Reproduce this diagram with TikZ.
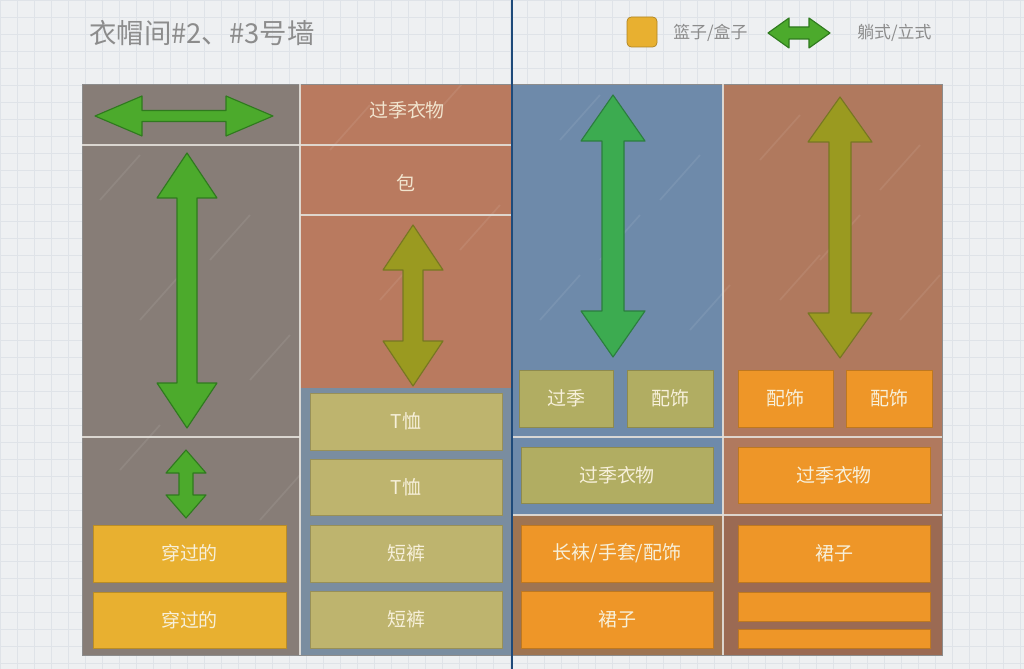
\documentclass[tikz,border=0pt]{standalone}
\usepackage{fontspec}
\newfontfamily\cjk{Noto Sans CJK SC}
\definecolor{paper}{HTML}{EEF0F2}
\definecolor{gridc}{HTML}{DFE3E8}
\definecolor{colgray}{HTML}{877D77}
\definecolor{colterra}{HTML}{B97A5F}
\definecolor{colblue}{HTML}{6E8AAA}
\definecolor{colterrab}{HTML}{B0795E}
\definecolor{bluegray}{HTML}{7A8DA0}
\definecolor{brownlow}{HTML}{9E7452}
\definecolor{yellowbox}{HTML}{E8B030}
\definecolor{khaki}{HTML}{BEB46E}
\definecolor{khakig}{HTML}{B1AD62}
\definecolor{orangebox}{HTML}{EE9628}
\definecolor{greenA}{HTML}{4CAA2C}
\definecolor{greenAo}{HTML}{2F7A1E}
\definecolor{greenB}{HTML}{3CAB50}
\definecolor{greenBo}{HTML}{2B7E3E}
\definecolor{oliveA}{HTML}{9A9A20}
\definecolor{oliveAo}{HTML}{777722}
\definecolor{chalk}{HTML}{E4E0DA}
\definecolor{inkblue}{HTML}{1E4A7A}
\definecolor{titlegray}{HTML}{8C8C8C}
\definecolor{boxtxt}{HTML}{F7F0DA}
\tikzset{
  colfill/.style={fill=#1, draw=none},
  chalkline/.style={draw=chalk, line width=1.6pt, opacity=0.9},
  ybox/.style={fill=yellowbox, draw=yellowbox!80!black, line width=0.4pt},
  kbox/.style={fill=khaki, draw=khaki!80!black, line width=0.4pt},
  kgbox/.style={fill=khakig, draw=khakig!80!black, line width=0.4pt},
  obox/.style={fill=orangebox, draw=orangebox!80!black, line width=0.4pt},
  boxtext/.style={text=boxtxt, font=\cjk\fontsize{13.5}{15}\selectfont, inner sep=0pt},
  toptext/.style={text=boxtxt!90!colterra, font=\cjk\fontsize{13.5}{15}\selectfont, inner sep=0pt},
  legtext/.style={text=titlegray, font=\cjk\fontsize{12}{14}\selectfont, inner sep=0pt, anchor=west},
  arrG/.style={fill=greenA, draw=greenAo, line width=0.8pt, line join=round},
  arrB/.style={fill=greenB, draw=greenBo, line width=0.8pt, line join=round},
  arrO/.style={fill=oliveA, draw=oliveAo, line width=0.8pt, line join=round},
  streak/.style={draw=white, opacity=0.08, line width=1.2pt},
}
% #1 style, #2 cx, #3 ytop, #4 ybot, #5 shaft half, #6 head half, #7 head length
\newcommand\myvarrow[7]{%
  \draw[#1] (#2,#3) -- ({#2+#6},{#3+#7}) -- ({#2+#5},{#3+#7}) -- ({#2+#5},{#4-#7})
    -- ({#2+#6},{#4-#7}) -- (#2,#4) -- ({#2-#6},{#4-#7}) -- ({#2-#5},{#4-#7})
    -- ({#2-#5},{#3+#7}) -- ({#2-#6},{#3+#7}) -- cycle;}
% #1 style, #2 cy, #3 xleft, #4 xright, #5 shaft half, #6 head half, #7 head length
\newcommand\myharrow[7]{%
  \draw[#1] (#3,#2) -- ({#3+#7},{#2-#6}) -- ({#3+#7},{#2-#5}) -- ({#4-#7},{#2-#5})
    -- ({#4-#7},{#2-#6}) -- (#4,#2) -- ({#4-#7},{#2+#6}) -- ({#4-#7},{#2+#5})
    -- ({#3+#7},{#2+#5}) -- ({#3+#7},{#2+#6}) -- cycle;}
% box: #1 name, #2 style, #3 x1, #4 y1, #5 x2, #6 y2, #7 text
\newcommand\mybox[7]{%
  \path[#2] (#3,#4) rectangle (#5,#6);
  \node[boxtext] (#1) at ({(#3+#5)/2},{(#4+#6)/2}) {#7};}
\begin{document}
\begin{tikzpicture}[x=0.025cm, y=-0.025cm]
\useasboundingbox (0,0) rectangle (1024,669);
% paper with grid
\fill[paper] (0,0) rectangle (1024,669);
\foreach \g in {0,17,...,1024} \draw[gridc, line width=0.3pt] (\g,0) -- (\g,669);
\foreach \g in {0,17,...,669} \draw[gridc, line width=0.3pt] (0,\g) -- (1024,\g);

% title and legend
\node[text=titlegray, font=\cjk\fontsize{19.5}{22}\selectfont, anchor=west, inner sep=0pt] (title) at (89,33) {衣帽间\#2、\#3号墙};
\draw[fill=yellowbox, draw=yellowbox!75!black, rounded corners=3pt, line width=0.5pt] (627,17) rectangle (657,47);
\node[legtext] (legbox) at (673,33) {篮子/盒子};
\myharrow{arrG}{33}{768}{830}{6}{15}{21}
\node[legtext] (legarrow) at (857,33) {躺式/立式};

% columns
\path[colfill=colgray] (82,84) rectangle (300,655);
\path[colfill=colterra] (300,84) rectangle (511,655);
\path[colfill=bluegray] (300,388) rectangle (511,655);
\path[colfill=colblue] (511,84) rectangle (723,655);
\path[colfill=brownlow] (511,515) rectangle (723,655);
\path[colfill=colterrab] (723,84) rectangle (942,655);
\path[colfill=colterrab!88!black] (723,515) rectangle (942,655);
% texture streaks
\begin{scope}
\clip (82,84) rectangle (942,655);
\foreach \sx/\sy in {100/200,140/320,210/260,250/380,120/470,260/520,330/150,380/300,460/250,430/120,
  560/140,600/260,660/200,540/320,690/330,760/160,820/260,880/190,900/320,780/300}
  \draw[streak] (\sx,\sy) -- ({\sx+40},{\sy-45});
\end{scope}
\draw[black!45, line width=0.6pt] (82,84) rectangle (942,655);

% chalk lines
\draw[chalkline] (300,84) -- (300,655);
\draw[chalkline] (723,84) -- (723,655);
\draw[chalkline] (82,145) -- (511,145);
\draw[chalkline] (300,215) -- (511,215);
\draw[chalkline] (82,437) -- (300,437);
\draw[chalkline] (511,437) -- (942,437);
\draw[chalkline] (511,515) -- (942,515);

% column 1
\myharrow{arrG}{116}{95}{273}{5.5}{20}{47}
\myvarrow{arrG}{187}{153}{428}{10}{30}{45}
\myvarrow{arrG}{186}{450}{518}{7}{20}{23}
\mybox{c1a}{ybox}{93}{525}{286}{582}{穿过的}
\mybox{c1b}{ybox}{93}{592}{286}{648}{穿过的}

% column 2
\node[toptext] (c2top) at (407,110) {过季衣物};
\node[toptext] (c2bag) at (406,183) {包};
\myvarrow{arrO}{413}{225}{386}{10}{30}{45}
\mybox{c2a}{kbox}{310}{393}{502}{450}{T恤}
\mybox{c2b}{kbox}{310}{459}{502}{515}{T恤}
\mybox{c2c}{kbox}{310}{525}{502}{582}{短裤}
\mybox{c2d}{kbox}{310}{591}{502}{648}{短裤}

% column 3
\myvarrow{arrB}{613}{95}{357}{11}{32}{46}
\mybox{c3a}{kgbox}{519}{370}{613}{427}{过季}
\mybox{c3b}{kgbox}{627}{370}{713}{427}{配饰}
\mybox{c3c}{kgbox}{521}{447}{713}{503}{过季衣物}
\mybox{c3d}{obox}{521}{525}{713}{582}{长袜/手套/配饰}
\mybox{c3e}{obox}{521}{591}{713}{648}{裙子}

% column 4
\myvarrow{arrO}{840}{97}{358}{11}{32}{45}
\mybox{c4a}{obox}{738}{370}{833}{427}{配饰}
\mybox{c4b}{obox}{846}{370}{932}{427}{配饰}
\mybox{c4c}{obox}{738}{447}{930}{503}{过季衣物}
\mybox{c4d}{obox}{738}{525}{930}{582}{裙子}
\path[obox] (738,592) rectangle (930,621);
\path[obox] (738,629) rectangle (930,648);

% dark blue vertical line
\draw[inkblue, line width=1.6pt] (512,0) -- (512,669);
\end{tikzpicture}
\end{document}
